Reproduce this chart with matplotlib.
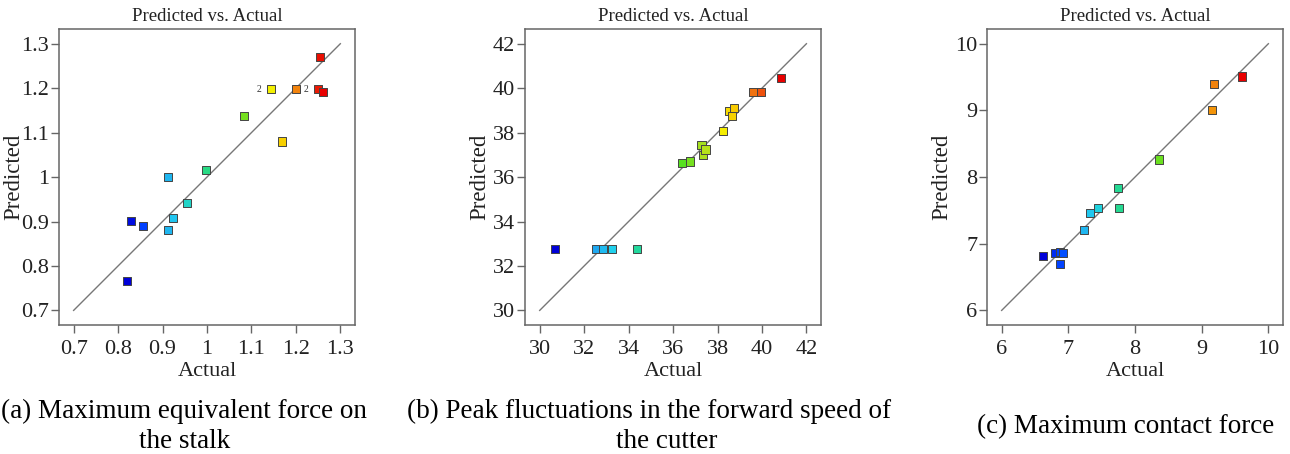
import numpy as np
import matplotlib
matplotlib.use("Agg")
from matplotlib import pyplot as plt
from matplotlib.colors import LinearSegmentedColormap

plt.rcParams['font.family'] = ['Liberation Serif', 'DejaVu Serif']

# (a) Maximum equivalent force on the stalk
a_actual = [1.254, 1.145, 1.201, 1.249, 1.262, 1.083, 1.168, 0.998, 0.912,
            0.956, 0.923, 0.912, 0.829, 0.856, 0.821]
a_pred = [1.271, 1.198, 1.199, 1.198, 1.192, 1.138, 1.080, 1.015, 1.000,
          0.941, 0.907, 0.881, 0.901, 0.889, 0.766]
a_ticks = [0.7, 0.8, 0.9, 1.0, 1.1, 1.2, 1.3]
a_ticklabels = ["0.7", "0.8", "0.9", "1", "1.1", "1.2", "1.3"]
a_dup = [1.145, 1.249]  # points marked with "2"
a_dup_pred = [1.198, 1.198]

# (b) Peak fluctuations in the forward speed of the cutter
b_actual = [30.68, 32.54, 32.86, 33.27, 34.39, 36.40, 36.76, 37.28, 37.34,
            37.46, 38.26, 38.53, 38.67, 38.76, 39.61, 39.95, 40.86]
b_pred = [32.77, 32.77, 32.77, 32.77, 32.77, 36.65, 36.70, 37.46, 37.01,
          37.24, 38.08, 38.96, 38.76, 39.12, 39.81, 39.81, 40.44]
b_ticks = [30, 32, 34, 36, 38, 40, 42]
b_ticklabels = ["30", "32", "34", "36", "38", "40", "42"]

# (c) Maximum contact force
c_actual = [6.625, 6.795, 6.870, 6.915, 6.880, 7.235, 7.330, 7.445, 7.745,
            7.755, 8.365, 9.150, 9.190, 9.605]
c_pred = [6.814, 6.865, 6.880, 6.865, 6.690, 7.200, 7.460, 7.530, 7.835,
          7.535, 8.264, 9.010, 9.400, 9.508]
c_ticks = [6, 7, 8, 9, 10]
c_ticklabels = ["6", "7", "8", "9", "10"]

captions = [["(a) Maximum equivalent force on", "the stalk"],
            ["(b) Peak fluctuations in the forward speed of", "the cutter"],
            ["(c) Maximum contact force"]]

cmap = LinearSegmentedColormap.from_list("de", [
    (0.00, "#0000d8"), (0.08, "#0040ff"), (0.18, "#1fa8f0"), (0.25, "#20d0f0"),
    (0.36, "#22d8a0"), (0.45, "#30dc60"), (0.56, "#55e020"), (0.65, "#a8e020"),
    (0.74, "#f5f000"), (0.80, "#f8c800"), (0.88, "#f07010"), (1.00, "#e80000")])

fig = plt.figure(figsize=(12.9, 4.54), dpi=100)

panels = [
    (0.0457, a_actual, a_pred, a_ticks, a_ticklabels),
    (0.4070, b_actual, b_pred, b_ticks, b_ticklabels),
    (0.7651, c_actual, c_pred, c_ticks, c_ticklabels),
]

axes = []
for left, xs, ys, ticks, labels in panels:
    ax = fig.add_axes([left, 0.284, 0.2295, 0.652])
    lo, hi = ticks[0], ticks[-1]
    m = (hi - lo) * 0.055
    ax.plot([lo, hi], [lo, hi], color="#777777", lw=1.0, zorder=1)
    xs = np.array(xs)
    ys = np.array(ys)
    norm = (xs - xs.min()) / (xs.max() - xs.min())
    ax.scatter(xs, ys, marker="s", s=34, c=cmap(norm), edgecolors="#444444",
               linewidths=0.7, zorder=3)
    ax.set_xlim(lo - m, hi + m)
    ax.set_ylim(lo - m, hi + m)
    ax.set_xticks(ticks)
    ax.set_xticklabels(labels)
    ax.set_yticks(ticks)
    ax.set_yticklabels(labels)
    ax.tick_params(direction="out", length=6, width=1, color="#666666",
                   labelsize=16, labelcolor="#222222")
    ax.tick_params(axis="x", pad=5)
    ax.tick_params(axis="y", pad=1)
    for sp in ax.spines.values():
        sp.set_color("#666666")
        sp.set_linewidth(1.1)
    ax.set_title("Predicted vs. Actual", fontsize=13.5, pad=6, color="#222222")
    ax.set_xlabel("Actual", fontsize=16, color="#222222")
    ax.set_ylabel("Predicted", fontsize=16.5, color="#222222")
    ax.xaxis.set_label_coords(0.5, -0.125)
    ax.yaxis.set_label_coords(-0.117, 0.5)
    axes.append(ax)

# replicate markers "2"
for x, y in zip(a_dup, a_dup_pred):
    axes[0].annotate("2", (x, y), xytext=(-7, 0), textcoords="offset points",
                     fontsize=7, ha="right", va="center", color="#333333")

# captions
fig.text(184 / 1290, 1 - 418 / 454, captions[0][0], fontsize=19.5, ha="center", va="baseline")
fig.text(185 / 1290, 1 - 448 / 454, captions[0][1], fontsize=19.5, ha="center", va="baseline")
fig.text(649 / 1290, 1 - 418 / 454, captions[1][0], fontsize=19.5, ha="center", va="baseline")
fig.text(667 / 1290, 1 - 448 / 454, captions[1][1], fontsize=19.5, ha="center", va="baseline")
fig.text(1126 / 1290, 1 - 433 / 454, captions[2][0], fontsize=19.5, ha="center", va="baseline")

fig.savefig("out.png", dpi=100)
